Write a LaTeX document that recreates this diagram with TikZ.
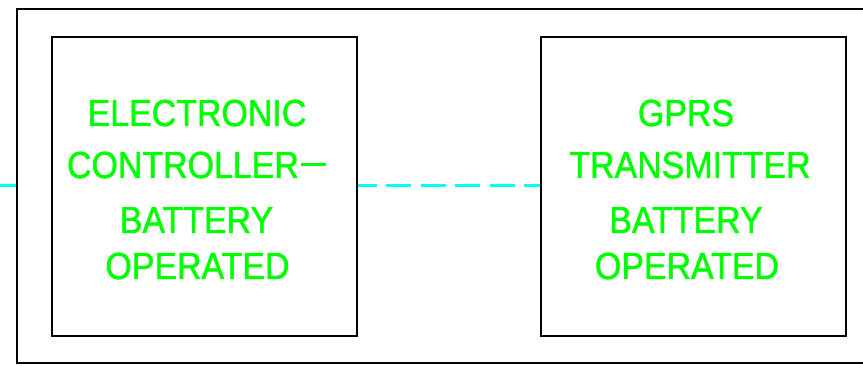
\documentclass[tikz,border=0pt]{standalone}
\usepackage{fontspec}
\newfontfamily\lblfont{Liberation Sans}[FakeStretch=0.9,FakeBold=1.2]
\definecolor{txtgreen}{RGB}{0,255,0}
\definecolor{wirecyan}{RGB}{0,255,255}
\begin{document}
\begin{tikzpicture}[x=1pt,y=-1pt,
  frame/.style={draw=black,line width=1.5pt},
  unitbox/.style={draw=black,line width=1.5pt,minimum width=305pt,minimum height=299pt,inner sep=0pt},
  lbl/.style={text=txtgreen,font=\lblfont\fontsize{37.7}{40}\selectfont,anchor=base,inner sep=0pt},
  wire/.style={draw=wirecyan,line width=3pt,dash pattern=on 25pt off 9.5pt,dash phase=6pt},
  wiresolid/.style={draw=wirecyan,line width=3pt}]
\useasboundingbox (0,0) rectangle (863,366);
\clip (0,0) rectangle (863,366);
\draw[frame] (880,9) -- (17,9) -- (17,363) -- (880,363);
\node[lbl] (l1) at (197,126) {ELECTRONIC};
\node[lbl] (l2) at (196.5,178) {CONTROLLER\hspace{2pt}\raisebox{11.5pt}{\rule{25pt}{3.3pt}}};
\node[lbl] (l3) at (196.5,233) {BATTERY};
\node[lbl] (l4) at (197.5,279) {OPERATED};
\node[lbl] (r1) at (686,126) {GPRS};
\node[lbl] (r2) at (690,178) {TRANSMITTER};
\node[lbl] (r3) at (686,233) {BATTERY};
\node[lbl] (r4) at (687,279) {OPERATED};
\node[unitbox] (ctrl) at (204.5,186.5) {};
\node[unitbox] (gprs) at (693.5,186.5) {};
\coordinate (inlet) at (0,186);
\coordinate (frameleft) at (16.25,186);
\draw[wiresolid] (inlet) -- (frameleft);
\draw[wire] (ctrl.east |- 0,186) -- (gprs.west |- 0,186);
\end{tikzpicture}
\end{document}
